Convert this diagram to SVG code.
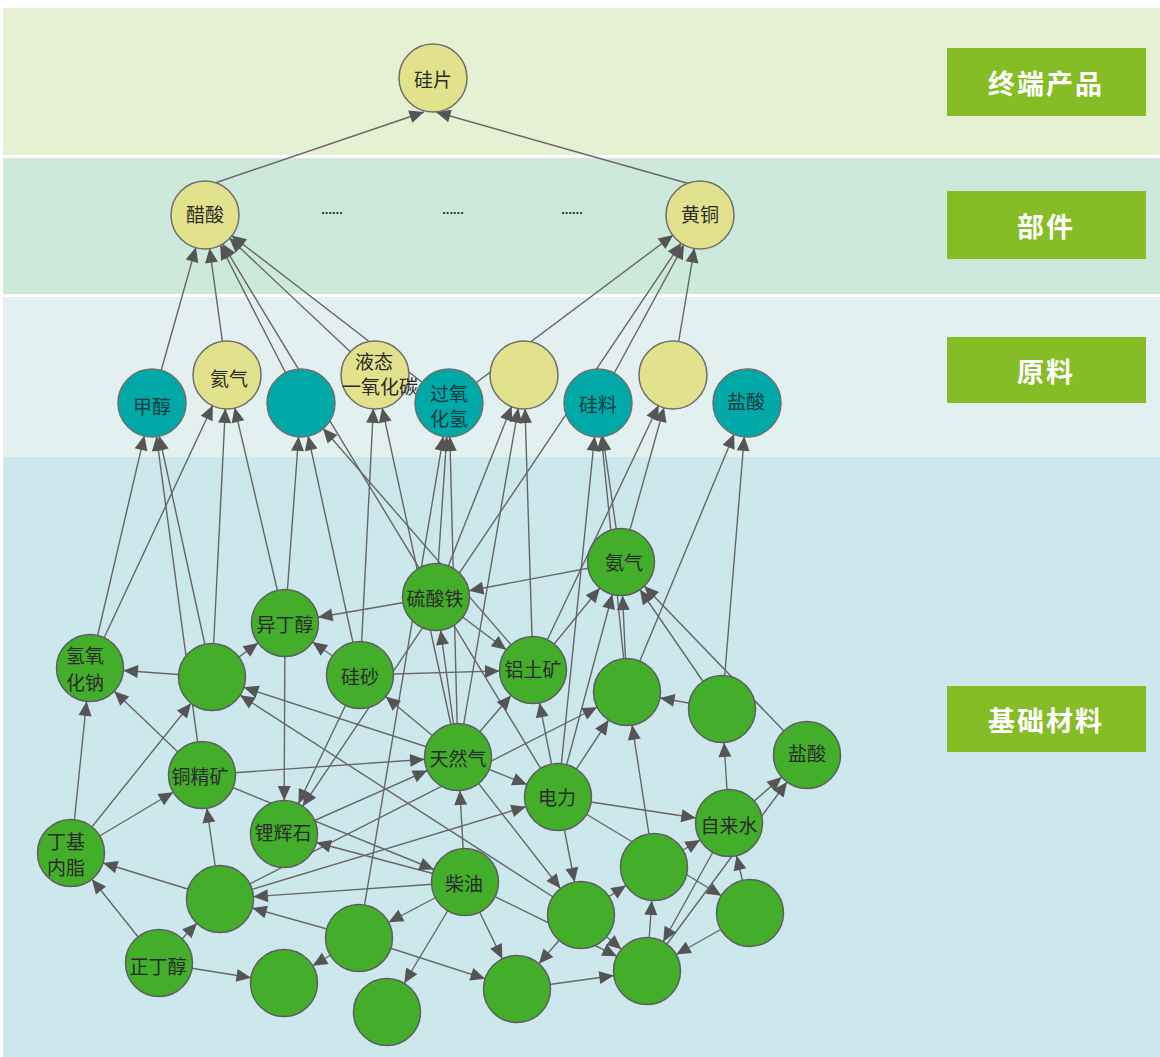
<svg xmlns="http://www.w3.org/2000/svg" width="1160" height="1057" viewBox="0 0 1160 1057">
<style>
.e{stroke:#666666;stroke-width:1.4;fill:none;marker-end:url(#arr)}
.e0{stroke:#666666;stroke-width:1.4;fill:none;marker-end:url(#arr0)}
.y{fill:#e3e28c;stroke:#6e6e6e;stroke-width:1.5}
.t{fill:#00a8a8;stroke:#6e6e6e;stroke-width:1.5}
.g{fill:#42ae2a;stroke:#5e5e5e;stroke-width:1.5}
.l{font-family:"Noto Sans CJK SC","Liberation Sans",sans-serif;font-size:19px;fill:#2a2a2a;text-anchor:middle;dominant-baseline:central}
.lt{fill:#10393a}
.bx{fill:#86bc26}
.bt{font-family:"Noto Sans CJK SC","Liberation Sans",sans-serif;font-size:27px;font-weight:bold;fill:#ffffff;text-anchor:middle;dominant-baseline:central;letter-spacing:2px}
.dots{font-family:"Liberation Sans",sans-serif;font-size:13px;font-weight:bold;fill:#333;text-anchor:middle}
</style>
<defs>
<marker id="arr" markerUnits="userSpaceOnUse" viewBox="-52 -10 62 20" markerWidth="62" markerHeight="20" refX="0" refY="0" orient="auto-start-reverse" overflow="visible">
<path d="M-33.5,0 L-48,-6.5 L-48,6.5 Z" fill="#555"/>
</marker>
<marker id="arr0" markerUnits="userSpaceOnUse" viewBox="-18 -10 20 20" markerWidth="20" markerHeight="20" refX="0" refY="0" orient="auto" overflow="visible">
<path d="M0,0 L-14.5,-6.5 L-14.5,6.5 Z" fill="#555"/>
</marker>
</defs>
<rect x="0" y="0" width="1160" height="1057" fill="#ffffff"/>
<g id="bands">
<rect x="3" y="8" width="1157" height="147" fill="#e6f0d3"/>
<rect x="3" y="158" width="1157" height="136" fill="#cde9dc"/>
<rect x="3" y="297" width="1157" height="160" fill="#e2f1ef"/>
<rect x="3" y="457" width="1157" height="600" fill="#cde8ed"/>
</g>
<g id="levels">
<rect class="bx" x="947" y="48" width="199" height="68"/><text class="bt" x="1046" y="82">终端产品</text>
<rect class="bx" x="947" y="191" width="199" height="68"/><text class="bt" x="1046" y="225">部件</text>
<rect class="bx" x="947" y="337" width="199" height="66"/><text class="bt" x="1046" y="370">原料</text>
<rect class="bx" x="947" y="686" width="199" height="66"/><text class="bt" x="1046" y="719">基础材料</text>
</g>
<g id="connectors">
<line class="e0" x1="212" y1="184" x2="424" y2="112"/>
<line class="e0" x1="690" y1="184" x2="436" y2="112"/>
<line class="e" x1="152" y1="403" x2="205" y2="215"/>
<line class="e" x1="227" y1="375" x2="205" y2="215"/>
<line class="e" x1="301" y1="403" x2="205" y2="215"/>
<line class="e" x1="558" y1="797" x2="205" y2="215"/>
<line class="e" x1="375" y1="375" x2="205" y2="215"/>
<line class="e" x1="449" y1="403" x2="205" y2="215"/>
<line class="e" x1="449" y1="403" x2="700" y2="215"/>
<line class="e" x1="598" y1="403" x2="700" y2="215"/>
<line class="e" x1="284" y1="834" x2="700" y2="215" marker-start="url(#arr)"/>
<line class="e" x1="673" y1="375" x2="700" y2="215"/>
<line class="e" x1="90" y1="668" x2="152" y2="403"/>
<line class="e" x1="212" y1="677" x2="152" y2="403"/>
<line class="e" x1="202" y1="775" x2="152" y2="403"/>
<line class="e" x1="90" y1="668" x2="227" y2="375"/>
<line class="e" x1="212" y1="677" x2="227" y2="375"/>
<line class="e" x1="285" y1="623" x2="227" y2="375"/>
<line class="e" x1="285" y1="623" x2="301" y2="403"/>
<line class="e" x1="360" y1="675" x2="301" y2="403"/>
<line class="e" x1="533" y1="670" x2="301" y2="403"/>
<line class="e" x1="360" y1="675" x2="375" y2="375"/>
<line class="e" x1="458" y1="757" x2="375" y2="375"/>
<line class="e" x1="436" y1="597" x2="449" y2="403"/>
<line class="e" x1="458" y1="757" x2="449" y2="403"/>
<line class="e" x1="359" y1="938" x2="449" y2="403"/>
<line class="e" x1="436" y1="597" x2="524" y2="375"/>
<line class="e" x1="458" y1="757" x2="524" y2="375"/>
<line class="e" x1="533" y1="670" x2="524" y2="375"/>
<line class="e" x1="558" y1="797" x2="598" y2="403"/>
<line class="e" x1="627" y1="692" x2="598" y2="403"/>
<line class="e" x1="621" y1="562" x2="598" y2="403"/>
<line class="e" x1="533" y1="670" x2="673" y2="375"/>
<line class="e" x1="621" y1="562" x2="673" y2="375"/>
<line class="e" x1="627" y1="692" x2="747" y2="403"/>
<line class="e" x1="722" y1="709" x2="747" y2="403"/>
<line class="e" x1="533" y1="670" x2="621" y2="562"/>
<line class="e" x1="558" y1="797" x2="621" y2="562"/>
<line class="e" x1="627" y1="692" x2="621" y2="562"/>
<line class="e" x1="722" y1="709" x2="621" y2="562"/>
<line class="e" x1="807" y1="755" x2="621" y2="562"/>
<line class="e" x1="621" y1="562" x2="436" y2="597"/>
<line class="e" x1="436" y1="597" x2="285" y2="623"/>
<line class="e" x1="212" y1="677" x2="285" y2="623"/>
<line class="e" x1="360" y1="675" x2="285" y2="623"/>
<line class="e" x1="285" y1="623" x2="284" y2="834"/>
<line class="e" x1="212" y1="677" x2="90" y2="668"/>
<line class="e" x1="202" y1="775" x2="90" y2="668"/>
<line class="e" x1="71" y1="853" x2="90" y2="668"/>
<line class="e" x1="458" y1="757" x2="212" y2="677"/>
<line class="e" x1="581" y1="915" x2="212" y2="677"/>
<line class="e" x1="71" y1="853" x2="212" y2="677"/>
<line class="e" x1="436" y1="597" x2="533" y2="670"/>
<line class="e" x1="458" y1="757" x2="436" y2="597"/>
<line class="e" x1="458" y1="757" x2="360" y2="675"/>
<line class="e" x1="360" y1="675" x2="533" y2="670"/>
<line class="e" x1="360" y1="675" x2="284" y2="834"/>
<line class="e" x1="202" y1="775" x2="458" y2="757"/>
<line class="e" x1="284" y1="834" x2="458" y2="757"/>
<line class="e" x1="465" y1="882" x2="458" y2="757"/>
<line class="e" x1="220" y1="899" x2="627" y2="692"/>
<line class="e" x1="220" y1="899" x2="558" y2="797"/>
<line class="e" x1="465" y1="882" x2="284" y2="834"/>
<line class="e" x1="458" y1="757" x2="533" y2="670"/>
<line class="e" x1="458" y1="757" x2="558" y2="797"/>
<line class="e" x1="458" y1="757" x2="581" y2="915"/>
<line class="e" x1="558" y1="797" x2="533" y2="670"/>
<line class="e" x1="558" y1="797" x2="627" y2="692"/>
<line class="e" x1="558" y1="797" x2="729" y2="823"/>
<line class="e" x1="558" y1="797" x2="581" y2="915"/>
<line class="e" x1="558" y1="797" x2="750" y2="913"/>
<line class="e" x1="722" y1="709" x2="627" y2="692"/>
<line class="e" x1="654" y1="867" x2="627" y2="692"/>
<line class="e" x1="729" y1="823" x2="722" y2="709"/>
<line class="e" x1="729" y1="823" x2="807" y2="755"/>
<line class="e" x1="647" y1="971" x2="807" y2="755"/>
<line class="e" x1="654" y1="867" x2="729" y2="823"/>
<line class="e" x1="750" y1="913" x2="729" y2="823"/>
<line class="e" x1="729" y1="823" x2="647" y2="971"/>
<line class="e" x1="581" y1="915" x2="654" y2="867"/>
<line class="e" x1="647" y1="971" x2="654" y2="867"/>
<line class="e" x1="581" y1="915" x2="517" y2="989"/>
<line class="e" x1="581" y1="915" x2="647" y2="971"/>
<line class="e" x1="750" y1="913" x2="647" y2="971"/>
<line class="e" x1="465" y1="882" x2="647" y2="971"/>
<line class="e" x1="517" y1="989" x2="647" y2="971"/>
<line class="e" x1="465" y1="882" x2="220" y2="899"/>
<line class="e" x1="465" y1="882" x2="359" y2="938"/>
<line class="e" x1="465" y1="882" x2="517" y2="989"/>
<line class="e" x1="465" y1="882" x2="387" y2="1012"/>
<line class="e" x1="202" y1="775" x2="465" y2="882"/>
<line class="e" x1="359" y1="938" x2="220" y2="899"/>
<line class="e" x1="159" y1="963" x2="220" y2="899"/>
<line class="e" x1="220" y1="899" x2="71" y2="853"/>
<line class="e" x1="220" y1="899" x2="202" y2="775"/>
<line class="e" x1="159" y1="963" x2="71" y2="853"/>
<line class="e" x1="159" y1="963" x2="284" y2="983"/>
<line class="e" x1="359" y1="938" x2="284" y2="983"/>
<line class="e" x1="359" y1="938" x2="517" y2="989"/>
<line class="e" x1="71" y1="853" x2="202" y2="775"/>
</g>
<g id="dots">
<text class="dots" x="332" y="214">......</text>
<text class="dots" x="453" y="214">......</text>
<text class="dots" x="572" y="214">......</text>
</g>
<g id="n-wafer"><circle class="y" cx="433" cy="78" r="34"/><text class="l" x="433" y="78">硅片</text></g>
<g id="n-acetic"><circle class="y" cx="205" cy="215" r="34"/><text class="l" x="205" y="213">醋酸</text></g>
<g id="n-brass"><circle class="y" cx="700" cy="215" r="34"/><text class="l" x="700" y="213">黄铜</text></g>
<g id="n-r1"><circle class="t" cx="152" cy="403" r="34"/><text class="l lt" x="152" y="405">甲醇</text></g>
<g id="n-r2"><circle class="y" cx="227" cy="375" r="34"/><text class="l" x="229" y="377">氦气</text></g>
<g id="n-r3"><circle class="t" cx="301" cy="403" r="34"/></g>
<g id="n-r4"><circle class="y" cx="375" cy="375" r="34"/><text class="l" x="374" y="360">液态</text><text class="l" x="380" y="385">一氧化碳</text></g>
<g id="n-r5"><circle class="t" cx="449" cy="403" r="34"/><text class="l lt" x="449" y="392">过氧</text><text class="l lt" x="449" y="417">化氢</text></g>
<g id="n-r6"><circle class="y" cx="524" cy="375" r="34"/></g>
<g id="n-r7"><circle class="t" cx="598" cy="403" r="34"/><text class="l lt" x="598" y="403">硅料</text></g>
<g id="n-r8"><circle class="y" cx="673" cy="375" r="34"/></g>
<g id="n-r9"><circle class="t" cx="747" cy="403" r="34"/><text class="l lt" x="746" y="400">盐酸</text></g>
<g id="n-nh3"><circle class="g" cx="621" cy="562" r="33.5"/><text class="l" x="624" y="561">氨气</text></g>
<g id="n-fe"><circle class="g" cx="436" cy="597" r="33.5"/><text class="l" x="435" y="597">硫酸铁</text></g>
<g id="n-ibu"><circle class="g" cx="285" cy="623" r="33.5"/><text class="l" x="285" y="623">异丁醇</text></g>
<g id="n-naoh"><circle class="g" cx="90" cy="668" r="33.5"/><text class="l" x="85" y="654">氢氧</text><text class="l" x="85" y="681">化钠</text></g>
<g id="n-a"><circle class="g" cx="212" cy="677" r="33.5"/></g>
<g id="n-sand"><circle class="g" cx="360" cy="675" r="33.5"/><text class="l" x="360" y="675">硅砂</text></g>
<g id="n-al"><circle class="g" cx="533" cy="670" r="33.5"/><text class="l" x="533" y="668">铝土矿</text></g>
<g id="n-b"><circle class="g" cx="627" cy="692" r="33.5"/></g>
<g id="n-c"><circle class="g" cx="722" cy="709" r="33.5"/></g>
<g id="n-hcl"><circle class="g" cx="807" cy="755" r="33.5"/><text class="l" x="807" y="752">盐酸</text></g>
<g id="n-gas"><circle class="g" cx="458" cy="757" r="33.5"/><text class="l" x="458" y="757">天然气</text></g>
<g id="n-cu"><circle class="g" cx="202" cy="775" r="33.5"/><text class="l" x="200" y="775">铜精矿</text></g>
<g id="n-elec"><circle class="g" cx="558" cy="797" r="33.5"/><text class="l" x="557" y="796">电力</text></g>
<g id="n-water"><circle class="g" cx="729" cy="823" r="33.5"/><text class="l" x="729" y="824">自来水</text></g>
<g id="n-li"><circle class="g" cx="284" cy="834" r="33.5"/><text class="l" x="283" y="831">锂辉石</text></g>
<g id="n-gbl"><circle class="g" cx="71" cy="853" r="33.5"/><text class="l" x="66" y="840">丁基</text><text class="l" x="66" y="866">内脂</text></g>
<g id="n-diesel"><circle class="g" cx="465" cy="882" r="33.5"/><text class="l" x="464" y="882">柴油</text></g>
<g id="n-d"><circle class="g" cx="654" cy="867" r="33.5"/></g>
<g id="n-e"><circle class="g" cx="220" cy="899" r="33.5"/></g>
<g id="n-f"><circle class="g" cx="581" cy="915" r="33.5"/></g>
<g id="n-g"><circle class="g" cx="750" cy="913" r="33.5"/></g>
<g id="n-h"><circle class="g" cx="359" cy="938" r="33.5"/></g>
<g id="n-nbu"><circle class="g" cx="159" cy="963" r="33.5"/><text class="l" x="158" y="965">正丁醇</text></g>
<g id="n-i"><circle class="g" cx="284" cy="983" r="33.5"/></g>
<g id="n-j"><circle class="g" cx="647" cy="971" r="33.5"/></g>
<g id="n-k"><circle class="g" cx="517" cy="989" r="33.5"/></g>
<g id="n-l"><circle class="g" cx="387" cy="1012" r="33.5"/></g>
</svg>
